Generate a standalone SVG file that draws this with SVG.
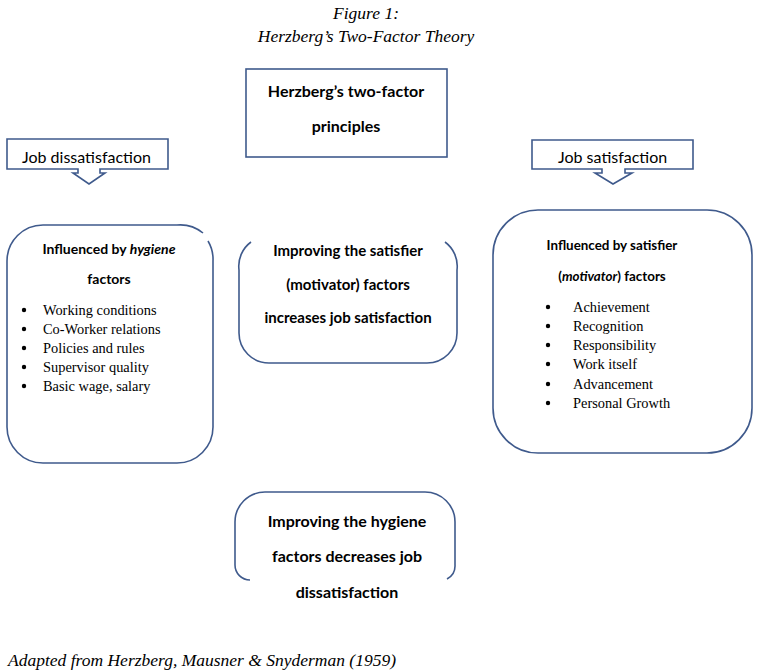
<svg xmlns="http://www.w3.org/2000/svg" width="761" height="672" viewBox="0 0 761 672">
<style>
.box{fill:none;stroke:#3f5a8c;stroke-width:1.6}
.cap{font-family:"Liberation Serif",serif;font-style:italic;font-size:17.5px;fill:#000}
.hb{font-family:Lato,"Liberation Sans",sans-serif;font-weight:bold;font-size:14px;fill:#000;text-anchor:middle}
.h16{font-size:16px}
.h15{font-size:15px}
.h13{font-size:13.4px}
.lab{font-family:Lato,"Liberation Sans",sans-serif;font-size:16px;fill:#000}
.li{font-family:"Liberation Serif",serif;font-size:14.4px;fill:#000}
.dot{fill:#000}
</style>
<rect width="761" height="672" fill="#fff"/>
<g id="title">
<text class="cap" x="366" y="19" text-anchor="middle">Figure 1:</text>
<text class="cap" x="366" y="42" text-anchor="middle">Herzberg’s Two-Factor Theory</text>
</g>
<g id="principles">
<rect class="box" x="246" y="69" width="201" height="88"/>
<text class="hb h16" x="346" y="97">Herzberg’s two-factor</text>
<text class="hb h16" x="346" y="132">principles</text>
</g>
<g id="dissatisfaction">
<path class="box" d="M7,139 H168 V169 H100 V173 H105 L89,184 L73,173 H78 V169 H7 Z"/>
<text class="lab" x="22" y="163">Job dissatisfaction</text>
</g>
<g id="satisfaction">
<path class="box" d="M532,140 H693 V169 H625 V173 H632 L613,184 L595,173 H602 V169 H532 Z"/>
<text class="lab" x="558" y="163">Job satisfaction</text>
</g>
<g id="hygiene">
<path class="box" d="M203,233 A36 36 0 0 0 177,225 H43 A36 36 0 0 0 7,261 V427 A36 36 0 0 0 43,463 H177 A36 36 0 0 0 213,427 V261 A36 36 0 0 0 208,241"/>
<text class="hb" x="109" y="254">Influenced by <tspan font-style="italic">hygiene</tspan></text>
<text class="hb" x="109" y="284">factors</text>
<circle class="dot" cx="24" cy="310" r="2.2"/><text class="li" x="43" y="315">Working conditions</text>
<circle class="dot" cx="24" cy="329" r="2.2"/><text class="li" x="43" y="334">Co-Worker relations</text>
<circle class="dot" cx="24" cy="348" r="2.2"/><text class="li" x="43" y="353">Policies and rules</text>
<circle class="dot" cx="24" cy="367" r="2.2"/><text class="li" x="43" y="372">Supervisor quality</text>
<circle class="dot" cx="24" cy="386" r="2.2"/><text class="li" x="43" y="391">Basic wage, salary</text>
</g>
<g id="satisfier-improve">
<path class="box" d="M251,242 A30 30 0 0 0 239,270 V333 A30 30 0 0 0 269,363 H427 A30 30 0 0 0 457,333 V270 A30 30 0 0 0 445,242"/>
<text class="hb h15" x="348" y="256">Improving the satisfier</text>
<text class="hb h15" x="348" y="290">(motivator) factors</text>
<text class="hb h15" x="348" y="323">increases job satisfaction</text>
</g>
<g id="motivator">
<rect class="box" x="493" y="210" width="259" height="243" rx="45" ry="45"/>
<text class="hb h13" x="612" y="250">Influenced by satisfier</text>
<text class="hb h13" x="612" y="281">(<tspan font-style="italic">motivator</tspan>) factors</text>
<circle class="dot" cx="548" cy="307" r="2.2"/><text class="li" x="573" y="312">Achievement</text>
<circle class="dot" cx="548" cy="326" r="2.2"/><text class="li" x="573" y="331">Recognition</text>
<circle class="dot" cx="548" cy="345" r="2.2"/><text class="li" x="573" y="350">Responsibility</text>
<circle class="dot" cx="548" cy="364" r="2.2"/><text class="li" x="573" y="369">Work itself</text>
<circle class="dot" cx="548" cy="384" r="2.2"/><text class="li" x="573" y="389">Advancement</text>
<circle class="dot" cx="548" cy="403" r="2.2"/><text class="li" x="573" y="408">Personal Growth</text>
</g>
<g id="hygiene-improve">
<path class="box" d="M250,580 A15 15 0 0 1 235,565 V522 A30 30 0 0 1 265,492 H425 A30 30 0 0 1 455,522 V565 A15 15 0 0 1 447,579"/>
<text class="hb h16" x="347" y="527">Improving the hygiene</text>
<text class="hb h16" x="347" y="562">factors decreases job</text>
<text class="hb h16" x="347" y="598">dissatisfaction</text>
</g>
<g id="connectors"></g>
<g id="source">
<text class="cap" x="8" y="666">Adapted from Herzberg, Mausner &amp; Snyderman (1959)</text>
</g>
</svg>
